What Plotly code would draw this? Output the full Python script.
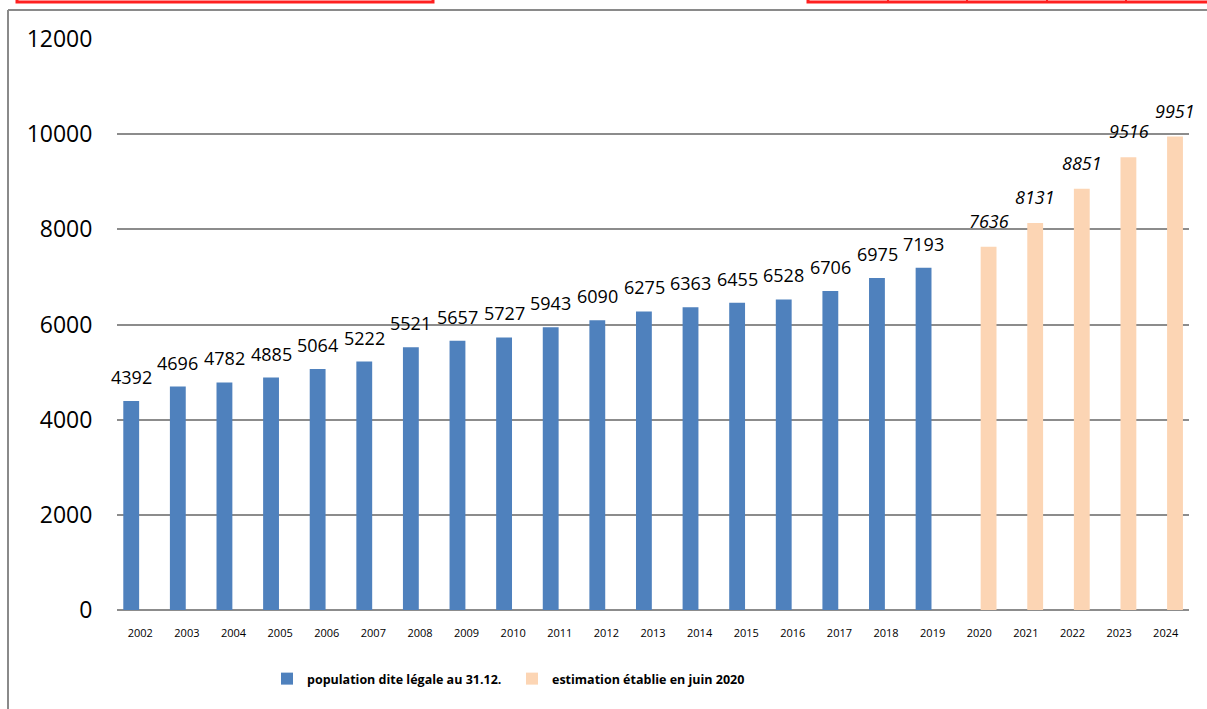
import plotly.graph_objects as go

years = [str(y) for y in range(2002, 2025)]
legal_pop = [4392, 4696, 4782, 4885, 5064, 5222, 5521, 5657, 5727, 5943, 6090,
             6275, 6363, 6455, 6528, 6706, 6975, 7193, None, None, None, None, None]
estimate = [None] * 18 + [7636, 8131, 8851, 9516, 9951]
y_ticks = [0, 2000, 4000, 6000, 8000, 10000, 12000]

BLUE = "#4F81BD"
PEACH = "#FCD5B4"
GRID = "#8C8C8C"

W, H = 1207, 709
L, R, T, B = 117, 18, 39, 99
pw, ph = W - L - R, H - T - B


def px(x):
    return (x - L) / pw


def py(y):
    return (H - B - y) / ph


fig = go.Figure()
fig.add_trace(go.Bar(x=years, y=legal_pop, name="population dite légale au 31.12.",
                     marker=dict(color=BLUE, line=dict(width=0)),
                     width=0.34, offset=-0.365))
fig.add_trace(go.Bar(x=years, y=estimate, name="estimation établie en juin 2020",
                     marker=dict(color=PEACH, line=dict(width=0)),
                     width=0.34, offset=0.03))

annotations = []
for i, v in enumerate(legal_pop):
    if v is not None:
        annotations.append(dict(x=i, y=v, text=str(v), showarrow=False, xref="x", yref="y",
                                xshift=-9, yshift=24, yanchor="middle",
                                font=dict(family="Open Sans", size=18, color="black")))
for i, v in enumerate(estimate):
    if v is not None:
        annotations.append(dict(x=i, y=v, text="<i>%d</i>" % v, showarrow=False, xref="x", yref="y",
                                xshift=9.5, yshift=26, yanchor="middle",
                                font=dict(family="Open Sans", size=18, color="black")))

shapes = []
# grey frame
shapes.append(dict(type="line", xref="paper", yref="paper", x0=px(8), x1=px(1210), y0=py(10), y1=py(10),
                   line=dict(color="#8a8a8a", width=2), layer="above"))
shapes.append(dict(type="line", xref="paper", yref="paper", x0=px(8), x1=px(8), y0=py(10), y1=py(712),
                   line=dict(color="#8a8a8a", width=2), layer="above"))
# red boxes at top
shapes.append(dict(type="rect", xref="paper", yref="paper", x0=px(17), x1=px(433), y0=py(-20), y1=py(2),
                   line=dict(color="#ff2020", width=3), layer="above"))
shapes.append(dict(type="rect", xref="paper", yref="paper", x0=px(808), x1=px(1230), y0=py(-20), y1=py(2),
                   line=dict(color="#ff2020", width=3), layer="above"))
for xv in [888, 967, 1047, 1126]:
    shapes.append(dict(type="line", xref="paper", yref="paper", x0=px(xv), x1=px(xv), y0=py(-20), y1=py(2),
                       line=dict(color="#ff2020", width=2), layer="above"))

fig.update_layout(
    width=W, height=H,
    margin=dict(l=L, r=R, t=T, b=B, pad=0),
    paper_bgcolor="white", plot_bgcolor="white",
    barmode="overlay",
    showlegend=True,
    legend=dict(orientation="h", x=px(267), y=py(679), xanchor="left", yanchor="middle",
                font=dict(family="Open Sans", size=12.5, color="black", weight="bold"),
                entrywidth=200, entrywidthmode="pixels", bgcolor="rgba(0,0,0,0)",
                traceorder="normal"),
    xaxis=dict(type="category", categoryorder="array", categoryarray=years,
               tickfont=dict(family="Open Sans", size=11, color="black"),
               showgrid=False, showline=False, zeroline=False,
               ticks="outside", ticklen=13, tickcolor="rgba(0,0,0,0)",
               range=[-0.5, len(years) - 0.5]),
    yaxis=dict(range=[0, 12000], tickvals=y_ticks, tickformat="d",
               tickfont=dict(family="Open Sans", size=23, color="black"),
               showgrid=True, gridcolor=GRID, gridwidth=1.5,
               zeroline=True, zerolinecolor=GRID, zerolinewidth=1.5,
               showline=False, ticks="outside", ticklen=19, tickcolor="rgba(0,0,0,0)"),
    annotations=annotations,
    shapes=shapes,
)

fig.write_html("out.html", config={"displayModeBar": False},
               post_script="document.body.style.margin='0';document.body.style.overflow='hidden';")
